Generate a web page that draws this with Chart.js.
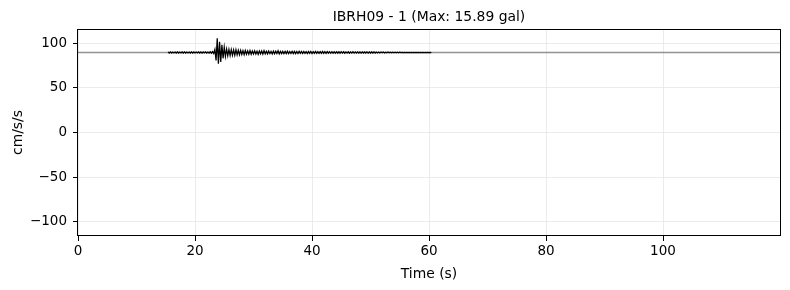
<!DOCTYPE html>
<html><head><meta charset="utf-8">
<script src="https://cdn.jsdelivr.net/npm/chart.js@4.4.1/dist/chart.umd.min.js"></script>
<style>html,body{margin:0;padding:0;background:#fff}#wrap{width:790px;height:290px}</style>
</head><body><div id="wrap"><canvas id="c" width="790" height="290"></canvas></div>
<script>
const chartTitle = 'IBRH09 - 1 (Max: 15.89 gal)';
const xAxisLabel = 'Time (s)';
const yAxisLabel = 'cm/s/s';
const xTicks = [0, 20, 40, 60, 80, 100];
const yTicks = [-100, -50, 0, 50, 100];
const xRange = [0, 120];
const yRange = [-115.8, 115.8];
const meanLevel = 89.5;
const traceStart = 15.4;
const sampleStep = 0.2;
const traceValues = [
  90.1,88.9,90.2,88.8,90.0,89.0,90.1,88.9,90.2,88.9,
  90.0,89.0,90.1,88.8,90.2,88.9,90.1,89.0,90.0,88.9,
  90.2,88.8,90.1,88.9,90.0,89.0,90.2,88.9,90.1,88.8,
  90.1,89.0,90.2,88.9,90.0,88.9,90.3,88.7,90.5,88.5,
  93.0,80.5,105.4,77.0,101.5,79.0,98.0,83.0,95.5,85.0,
  93.4,85.8,92.9,86.1,92.8,86.5,92.3,86.3,92.6,86.8,
  92.0,87.0,91.9,87.3,91.6,87.1,91.8,87.5,91.3,87.6,
  91.6,87.5,91.2,87.8,91.4,87.9,91.0,87.3,91.1,88.0,
  91.2,87.7,91.7,88.1,90.9,88.0,91.1,88.2,90.8,87.9,
  91.0,88.1,90.9,88.3,91.5,88.0,90.7,88.3,90.8,88.2,
  90.8,88.3,91.0,88.2,90.7,88.4,90.9,88.3,90.7,88.2,
  90.6,88.4,90.8,88.5,90.6,88.3,90.7,88.5,90.5,88.4,
  90.7,88.5,90.6,88.4,90.5,88.6,90.6,88.5,90.4,88.5,
  90.5,88.6,90.6,88.5,90.4,88.6,90.5,88.7,90.4,88.6,
  90.4,88.7,90.3,88.6,90.4,88.7,90.3,88.7,90.4,88.8,
  90.3,88.7,90.2,88.8,90.3,88.7,90.2,88.8,90.3,88.8,
  90.2,88.8,90.2,88.9,90.1,88.8,90.2,88.9,90.1,88.9,
  90.2,88.8,90.1,88.9,90.1,88.9,90.2,88.9,90.0,89.0,
  90.0,89.0,90.0,89.1,90.0,89.0,89.9,89.1,90.0,89.1,
  89.9,89.1,89.9,89.2,89.8,89.2,89.8,89.2,89.8,89.3,
  89.7,89.3,89.7,89.3,89.7,89.4,89.7,89.3,89.6,89.4,
  89.6,89.4,89.6,89.5,89.6,89.4,89.6,89.5,89.6,89.5,
  89.6,89.5,89.6,89.5,89.6,89.5
];

const FONT = 'DejaVu Sans';
const tracePoints = traceValues.map((v, i) => ({ x: traceStart + i * sampleStep, y: v }));
const meanPoints = [{ x: xRange[0], y: meanLevel }, { x: xRange[1], y: meanLevel }];
const fmt = v => String(v).replace('-', '\u2212');

const framePlugin = {
  id: 'frame',
  afterDatasetsDraw(chart) {
    const { ctx, chartArea: a } = chart;
    ctx.save();
    ctx.strokeStyle = '#000';
    ctx.lineWidth = 1;
    ctx.strokeRect(Math.round(a.left) - 0.5, Math.round(a.top) + 0.5,
      Math.round(a.right - a.left) + 1, Math.round(a.bottom - a.top) - 1);
    ctx.fillStyle = '#000';
    ctx.font = '13.9px "' + FONT + '"';
    ctx.textAlign = 'center';
    ctx.textBaseline = 'alphabetic';
    ctx.fillText(chartTitle, (a.left + a.right) / 2, 21);
    ctx.restore();
  }
};

new Chart(document.getElementById('c'), {
  type: 'line',
  data: {
    datasets: [
      { data: tracePoints, borderColor: '#000', borderWidth: 1.25, pointRadius: 0, tension: 0, fill: false },
      { data: meanPoints, borderColor: 'rgba(128,128,128,0.85)', borderWidth: 1.5, pointRadius: 0, tension: 0, fill: false }
    ]
  },
  options: {
    responsive: false,
    animation: false,
    devicePixelRatio: 1,
    parsing: false,
    layout: { padding: { left: 0, right: 10, top: 29, bottom: 0 } },
    plugins: { legend: { display: false }, tooltip: { enabled: false }, title: { display: false } },
    scales: {
      x: {
        type: 'linear', min: xRange[0], max: xRange[1],
        afterFit: s => { s.height = 54; },
        afterBuildTicks: s => { s.ticks = xTicks.map(v => ({ value: v })); },
        grid: { color: '#e6e6e6', lineWidth: 0.8, tickLength: 5, tickColor: '#000', tickWidth: 1 },
        border: { display: false },
        ticks: { autoSkip: false, maxRotation: 0, padding: 2, color: '#000', font: { family: FONT, size: 13.5 }, callback: fmt },
        title: { display: true, text: xAxisLabel, color: '#000', font: { family: FONT, size: 13.9 }, padding: { top: 0, bottom: 7 } }
      },
      y: {
        type: 'linear', min: yRange[0], max: yRange[1],
        afterFit: s => { s.width = 78; },
        afterBuildTicks: s => { s.ticks = yTicks.map(v => ({ value: v })); },
        grid: { color: '#e6e6e6', lineWidth: 0.8, tickLength: 5, tickColor: '#000', tickWidth: 1 },
        border: { display: false },
        ticks: { autoSkip: false, padding: 6, color: '#000', font: { family: FONT, size: 13.5 }, callback: fmt },
        title: { display: true, text: yAxisLabel, color: '#000', font: { family: FONT, size: 13.9 }, padding: { top: 10, bottom: 0 } }
      }
    }
  },
  plugins: [framePlugin]
});
</script></body></html>
